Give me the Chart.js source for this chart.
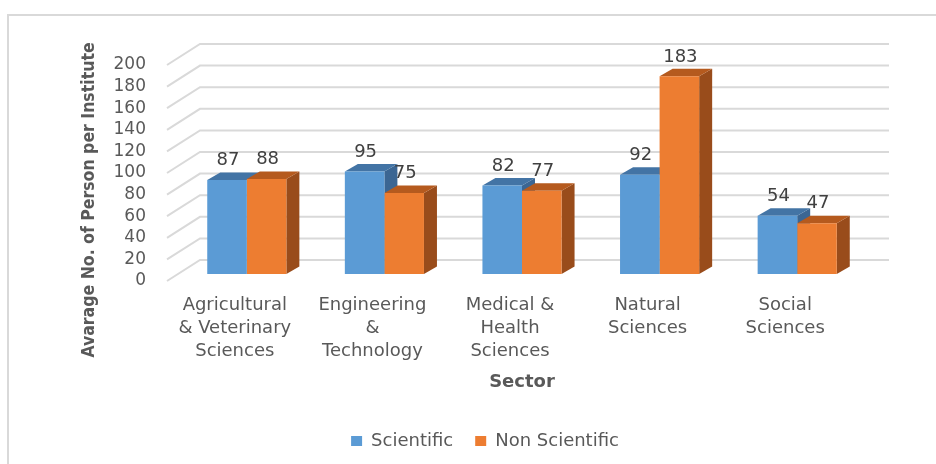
<!DOCTYPE html>
<html>
<head>
  <meta charset="UTF-8">
  <title>Avarage No. of Person per Institute by Sector</title>
  <script src="https://cdn.jsdelivr.net/npm/chart.js@4.4.1/dist/chart.umd.min.js"></script>
  <style>
    html, body { margin: 0; padding: 0; background: #fff; }
    #wrap { width: 936px; height: 464px; }
  </style>
</head>
<body>
<div id="wrap"><canvas id="canvas" width="936" height="464"></canvas></div>
<script>
  // sectors on the x axis (multi-line labels)
  const sectors = [
    ["Agricultural", "& Veterinary", "Sciences"],
    ["Engineering", "&", "Technology"],
    ["Medical &", "Health", "Sciences"],
    ["Natural", "Sciences"],
    ["Social", "Sciences"]
  ];
  const seriesNames = ["Scientific", "Non Scientific"];
  const scientific = [87, 95, 82, 92, 54];
  const nonScientific = [88, 75, 77, 183, 47];
  // y axis ticks
  const yMin = 0, yMax = 200, yStep = 20;
  const yTitle = "Avarage No. of Person per Institute";

  const FONT = "'DejaVu Sans', Verdana, sans-serif";
  const GREY = "#595959";

  // fake 3D: side walls/gridlines + top and side faces of the bars
  const fake3d = {
    id: "fake3d",
    beforeDraw(chart) {
      const ctx = chart.ctx;
      ctx.save();
      ctx.strokeStyle = "#d9d9d9";
      ctx.lineWidth = 2;
      ctx.beginPath();
      ctx.moveTo(8, 464);
      ctx.lineTo(8, 15);
      ctx.lineTo(936, 15);
      ctx.stroke();
      ctx.restore();
    },
    beforeDatasetsDraw(chart) {
      const {ctx, chartArea: a, scales: {y}} = chart;
      ctx.save();
      ctx.strokeStyle = "#d9d9d9";
      ctx.lineWidth = 2;
      y.ticks.forEach(t => {
        const py = y.getPixelForValue(t.value);
        ctx.beginPath();
        ctx.moveTo(a.left - 11, py + 7);
        ctx.lineTo(a.left + 22, py - 14);
        ctx.lineTo(a.right + 23, py - 14);
        ctx.stroke();
      });
      chart.data.datasets.forEach((ds, i) => {
        chart.getDatasetMeta(i).data.forEach(bar => {
          const p = bar.getProps(["x", "y", "base", "width"], true);
          const l = p.x - p.width / 2, r = p.x + p.width / 2;
          // side
          ctx.fillStyle = ds.sideColor;
          ctx.beginPath();
          ctx.moveTo(r, p.y);
          ctx.lineTo(r + 13, p.y - 7.5);
          ctx.lineTo(r + 13, p.base - 7.5);
          ctx.lineTo(r, p.base);
          ctx.closePath();
          ctx.fill();
          // top
          ctx.fillStyle = ds.topColor;
          ctx.beginPath();
          ctx.moveTo(l, p.y);
          ctx.lineTo(l + 13, p.y - 7.5);
          ctx.lineTo(r + 13, p.y - 7.5);
          ctx.lineTo(r, p.y);
          ctx.closePath();
          ctx.fill();
        });
      });
      ctx.restore();
    },
    afterDatasetsDraw(chart) {
      const ctx = chart.ctx;
      ctx.save();
      ctx.font = "18px " + FONT;
      ctx.fillStyle = "#404040";
      ctx.textAlign = "center";
      ctx.textBaseline = "middle";
      chart.data.datasets.forEach((ds, i) => {
        chart.getDatasetMeta(i).data.forEach((bar, j) => {
          const p = bar.getProps(["x", "y"], true);
          ctx.fillText(ds.data[j], p.x + 1, p.y - 19.5);
        });
      });
      // y axis title (centred lower than the plot, as in the original)
      ctx.translate(89, 200);
      ctx.rotate(-Math.PI / 2);
      ctx.font = "bold 17.5px 'DejaVu Sans Condensed', 'Liberation Sans Narrow', sans-serif";
      ctx.fillStyle = GREY;
      ctx.fillText(yTitle, 0, 0);
      ctx.restore();
    }
  };

  new Chart(document.getElementById("canvas"), {
    type: "bar",
    data: {
      labels: sectors,
      datasets: [
        { label: seriesNames[0], data: scientific, backgroundColor: "#5B9BD5",
          topColor: "#4374A5", sideColor: "#3B6693" },
        { label: seriesNames[1], data: nonScientific, backgroundColor: "#ED7D31",
          topColor: "#B55A1E", sideColor: "#994C1B" }
      ]
    },
    options: {
      responsive: false,
      animation: false,
      categoryPercentage: 0.575,
      barPercentage: 1.0,
      layout: { padding: { left: 104, right: 70, top: 58, bottom: 4 } },
      plugins: {
        legend: {
          position: "bottom",
          labels: {
            boxWidth: 11, boxHeight: 10, padding: 22,
            color: GREY, font: { family: FONT, size: 18 }
          }
        },
        tooltip: { enabled: false }
      },
      scales: {
        x: {
          grid: { display: false, drawTicks: false },
          border: { display: false },
          ticks: {
            color: GREY, padding: 19.5, labelOffset: -12, maxRotation: 0, autoSkip: false,
            font: { family: FONT, size: 18, lineHeight: 1.28 }
          },
          title: {
            display: true, text: "Sector", color: GREY,
            font: { family: FONT, size: 18, weight: "bold" },
            padding: { top: 0, bottom: 17 }
          },
          afterFit(s) { s.width = s.width; s.height = 136; }
        },
        y: {
          min: yMin, max: yMax,
          grid: { display: false, drawTicks: false },
          border: { display: false },
          ticks: {
            stepSize: yStep, autoSkip: false, color: GREY, padding: 32, labelOffset: 7,
            font: { family: FONT, size: 17 }
          },
          title: { display: false },
          afterFit(s) { s.width = 74; }
        }
      }
    },
    plugins: [fake3d]
  });
</script>
</body>
</html>
